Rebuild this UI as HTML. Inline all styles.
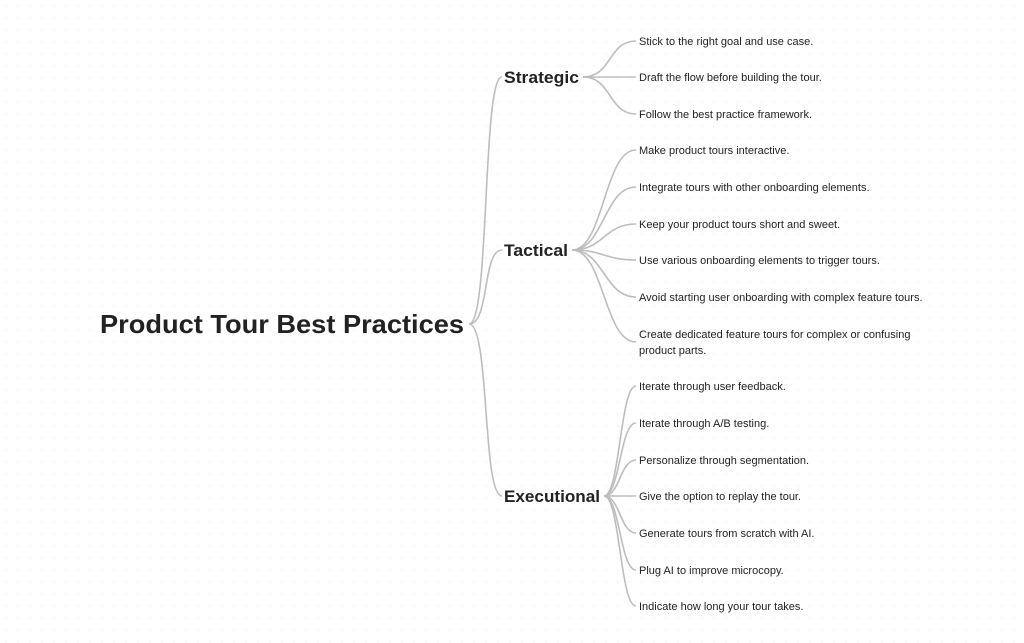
<!DOCTYPE html>
<html><head><meta charset="utf-8"><style>
html,body{margin:0;padding:0;background:#fff;}
svg{display:block;font-family:"Liberation Sans",sans-serif;}
.l{fill:#222;font-size:11px;}
.b{fill:#222;font-weight:bold;}
path{fill:none;stroke:#bdbdbd;stroke-width:1.6;}
</style></head><body>
<svg width="1024" height="643" viewBox="0 0 1024 643" xmlns="http://www.w3.org/2000/svg">
<defs><pattern id="d" width="12" height="12" patternUnits="userSpaceOnUse"><circle cx="6" cy="6" r="0.6" fill="#e4e4e4"/></pattern></defs>
<rect width="1024" height="643" fill="url(#d)"/>
<!-- root connectors -->
<path d="M469,324 C490,324 482,77 502,77"/>
<path d="M469,324 C490,324 482,250 502,250"/>
<path d="M469,324 C490,324 482,496 502,496"/>
<!-- strategic -->
<g>
<path d="M583,77 C612,77 608,41 636,41"/>
<path d="M583,77 L636,77"/>
<path d="M583,77 C612,77 608,114 636,114"/>
</g>
<!-- tactical -->
<path d="M572,250 C604,250 604,150 636,150"/>
<path d="M572,250 C604,250 604,187 636,187"/>
<path d="M572,250 C604,250 604,224 636,224"/>
<path d="M572,250 C604,250 604,260 636,260"/>
<path d="M572,250 C604,250 604,297 636,297"/>
<path d="M572,250 C604,250 604,342 636,342"/>
<!-- executional -->
<path d="M604,496 C620,496 620,386 636,386"/>
<path d="M604,496 C620,496 620,423 636,423"/>
<path d="M604,496 C620,496 620,460 636,460"/>
<path d="M604,496 L636,496"/>
<path d="M604,496 C620,496 620,533 636,533"/>
<path d="M604,496 C620,496 620,570 636,570"/>
<path d="M604,496 C620,496 620,606 636,606"/>
<text x="100" y="333" class="b" font-size="26" textLength="364" lengthAdjust="spacingAndGlyphs">Product Tour Best Practices</text>
<text x="504" y="83" class="b" font-size="17" textLength="75" lengthAdjust="spacingAndGlyphs">Strategic</text>
<text x="504" y="256" class="b" font-size="17" textLength="64" lengthAdjust="spacingAndGlyphs">Tactical</text>
<text x="504" y="502" class="b" font-size="17" textLength="96" lengthAdjust="spacingAndGlyphs">Executional</text>
<g class="l">
<text x="639" y="45">Stick to the right goal and use case.</text>
<text x="639" y="81">Draft the flow before building the tour.</text>
<text x="639" y="118">Follow the best practice framework.</text>
<text x="639" y="154">Make product tours interactive.</text>
<text x="639" y="191">Integrate tours with other onboarding elements.</text>
<text x="639" y="228">Keep your product tours short and sweet.</text>
<text x="639" y="264">Use various onboarding elements to trigger tours.</text>
<text x="639" y="301">Avoid starting user onboarding with complex feature tours.</text>
<text x="639" y="338">Create dedicated feature tours for complex or confusing</text>
<text x="639" y="354">product parts.</text>
<text x="639" y="390">Iterate through user feedback.</text>
<text x="639" y="427">Iterate through A/B testing.</text>
<text x="639" y="464">Personalize through segmentation.</text>
<text x="639" y="500">Give the option to replay the tour.</text>
<text x="639" y="537">Generate tours from scratch with AI.</text>
<text x="639" y="574">Plug AI to improve microcopy.</text>
<text x="639" y="610">Indicate how long your tour takes.</text>
</g>
</svg>
</body></html>
